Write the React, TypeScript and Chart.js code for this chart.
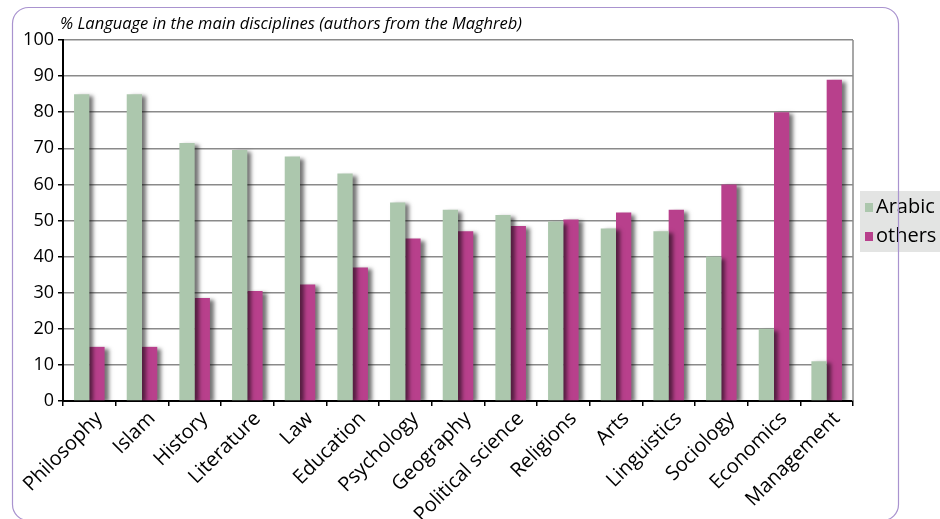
import React, { useEffect, useRef } from 'react';
import { Chart, registerables } from 'chart.js';

Chart.register(...registerables);

const titleText = '% Language in the main disciplines (authors from the Maghreb)';
const categories = [
  'Philosophy', 'Islam', 'History', 'Literature', 'Law', 'Education', 'Psychology',
  'Geography', 'Political science', 'Religions', 'Arts', 'Linguistics', 'Sociology',
  'Economics', 'Management',
];
const arabicValues = [85, 85, 71.5, 69.5, 67.7, 63, 55, 53, 51.5, 49.7, 47.8, 47, 40, 20, 11];
const othersValues = [15, 15, 28.5, 30.5, 32.3, 37, 45, 47, 48.5, 50.3, 52.2, 53, 60, 80, 89];
const seriesNames = ['Arabic', 'others'];
const seriesColors = ['#acc7ad', '#b8408c'];
const yMin = 0;
const yMax = 100;
const yStep = 10;

const FONT = '"Open Sans", "Noto Sans", sans-serif';

const shadowPlugin = {
  id: 'barShadow',
  beforeDatasetsDraw(chart: any) {
    const ctx = chart.ctx;
    ctx.save();
    ctx.shadowColor = 'rgba(0,0,0,0.55)';
    ctx.shadowOffsetX = 4;
    ctx.shadowOffsetY = 2;
    ctx.shadowBlur = 4;
  },
  afterDatasetsDraw(chart: any) {
    chart.ctx.restore();
  },
};

const decorPlugin = {
  id: 'decor',
  beforeDatasetsDraw(chart: any) {
    const { ctx, chartArea } = chart;
    ctx.save();
    ctx.strokeStyle = '#8a8a8a';
    ctx.lineWidth = 1.5;
    ctx.beginPath();
    ctx.moveTo(chartArea.right, chartArea.top);
    ctx.lineTo(chartArea.right, chartArea.bottom);
    ctx.stroke();
    ctx.restore();
  },
  afterDraw(chart: any) {
    const { ctx, chartArea } = chart;
    ctx.save();
    // title
    ctx.fillStyle = '#000';
    ctx.font = `italic 16.5px ${FONT}`;
    ctx.textAlign = 'left';
    ctx.textBaseline = 'alphabetic';
    ctx.fillText(titleText, chartArea.left - 3, 29);

    // legend
    const lx = chartArea.right + 7;
    const ly = 191;
    ctx.fillStyle = '#e3e4e3';
    ctx.fillRect(lx, ly, 940 - lx, 61);
    chart.data.datasets.forEach((ds: any, i: number) => {
      const cy = 207 + i * 29;
      ctx.fillStyle = ds.backgroundColor;
      ctx.fillRect(lx + 5, cy - 4, 8, 9);
      ctx.fillStyle = '#000';
      ctx.font = `20px ${FONT}`;
      ctx.textBaseline = 'middle';
      ctx.fillText(ds.label, lx + 16, cy);
    });

    // outer rounded border
    ctx.strokeStyle = '#a993cf';
    ctx.lineWidth = 1.2;
    ctx.beginPath();
    ctx.roundRect(12.5, 7.5, 886, 513, 16);
    ctx.stroke();
    ctx.restore();
  },
};

export default function App() {
  const ref = useRef<HTMLCanvasElement | null>(null);

  useEffect(() => {
    if (!ref.current) return;
    const chart = new Chart(ref.current, {
      type: 'bar',
      data: {
        labels: categories,
        datasets: [
          { label: seriesNames[0], data: arabicValues, backgroundColor: seriesColors[0], borderWidth: 0 },
          { label: seriesNames[1], data: othersValues, backgroundColor: seriesColors[1], borderWidth: 0 },
        ],
      },
      options: {
        responsive: false,
        maintainAspectRatio: false,
        animation: false,
        devicePixelRatio: 1,
        layout: { padding: { left: 0, top: 40, right: 87, bottom: 0 } },
        datasets: { bar: { categoryPercentage: 0.58, barPercentage: 1 } },
        plugins: {
          legend: { display: false },
          title: { display: false },
          tooltip: { enabled: false },
        },
        scales: {
          x: {
            grid: {
              offset: true,
              drawOnChartArea: false,
              drawTicks: true,
              tickColor: '#000',
              tickLength: 5,
              lineWidth: 1.5,
            },
            border: { color: '#000', width: 2 },
            ticks: {
              autoSkip: false,
              maxRotation: 45,
              minRotation: 45,
              color: '#000',
              padding: 1,
              labelOffset: 10,
              font: { family: FONT, size: 20 },
            },
            afterFit(scale: any) {
              scale.height = 118;
            },
          },
          y: {
            min: yMin,
            max: yMax,
            ticks: {
              stepSize: yStep,
              color: '#000',
              padding: 4,
              font: { family: FONT, size: 18 },
            },
            grid: {
              color: '#8a8a8a',
              lineWidth: 1.5,
              tickColor: '#000',
              tickLength: 5,
            },
            border: { color: '#000', width: 2 },
            afterFit(scale: any) {
              scale.width = 63;
            },
          },
        },
      },
      plugins: [decorPlugin, shadowPlugin],
    });
    return () => chart.destroy();
  }, []);

  return (
    <div style={{ position: 'fixed', left: 0, top: 0, width: 940, height: 519, background: '#fff' }}>
      <canvas ref={ref} width={940} height={519} style={{ display: 'block' }} />
    </div>
  );
}
